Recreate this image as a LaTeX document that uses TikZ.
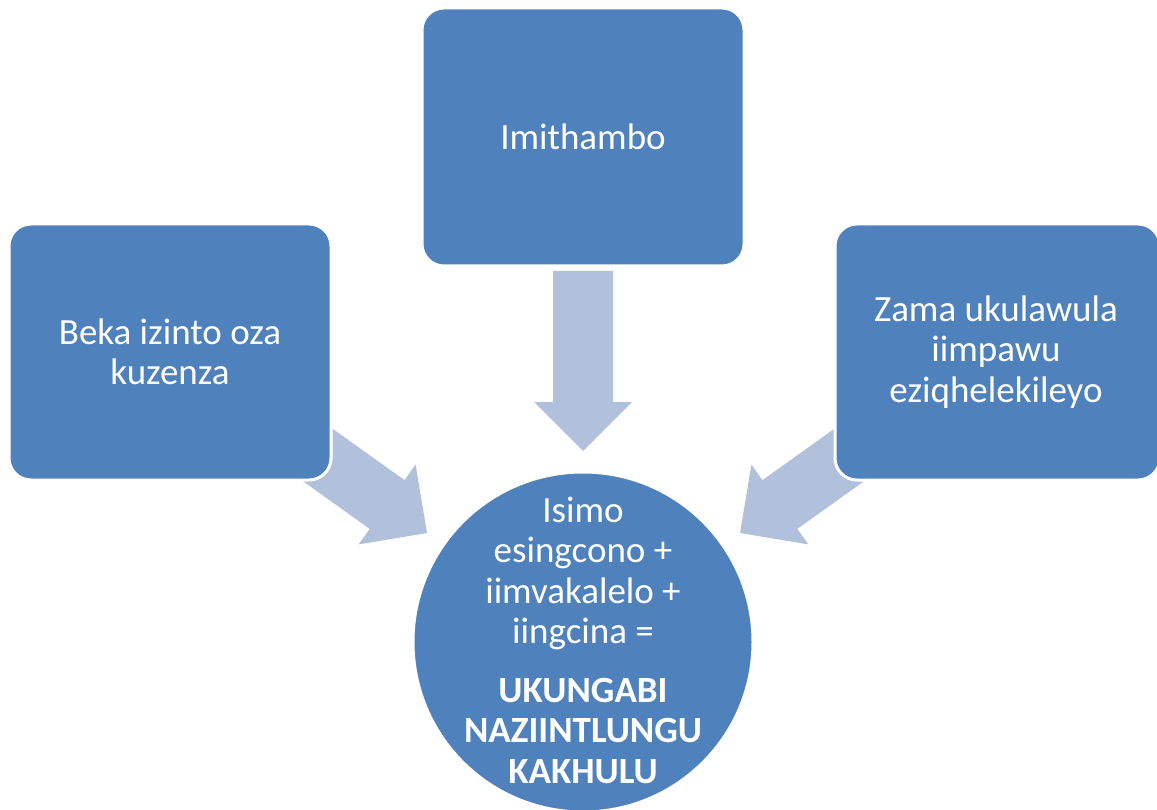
\documentclass[tikz,border=0pt]{standalone}
\usepackage{fontspec}
\setmainfont{Carlito}
\definecolor{boxblue}{HTML}{4F81BD}
\definecolor{arrowblue}{HTML}{B2C1DB}
\begin{document}
\begin{tikzpicture}[x=1pt,y=-1pt,
  blockbox/.style={draw=white, line width=3pt, fill=boxblue, rounded corners=22pt, inner sep=0pt},
  blockarrow/.style={fill=arrowblue, draw=none},
  label/.style={text=white, align=center, font=\fontsize{37}{40.5}\selectfont, inner sep=0pt}]
\useasboundingbox (0,0) rectangle (1157,810);
\clip (0,0) rectangle (1157,810);
% block arrows
\fill[blockarrow] (553,271) -- (613,271) -- (613,402) -- (632,402) -- (583,451) -- (534,402) -- (553,402) -- cycle;
\fill[blockarrow] (297.9,404.0) -- (404.5,480.1) -- (415.6,464.6) -- (427,533) -- (358.6,544.4) -- (369.7,528.9) -- (263.1,452.8) -- cycle;
\fill[blockarrow] (869.1,404.0) -- (762.5,480.1) -- (751.4,464.6) -- (740,533) -- (808.4,544.4) -- (797.3,528.9) -- (903.9,452.8) -- cycle;
% boxes
\draw[blockbox] (9,224) rectangle (331,480);
\node[label] (left) at (170,352) {Beka izinto oza\\kuzenza};
\draw[blockbox] (422,8) rectangle (744,266);
\node[label] (top) at (583,137) {Imithambo};
\draw[blockbox] (835,224) rectangle (1160,480);
\node[label] (right) at (996,352) {Zama ukulawula\\iimpawu\\eziqhelekileyo};
% circle
\node[circle, fill=boxblue, draw=white, line width=3pt, minimum size=340pt, inner sep=0pt] (circ) at (583,642) {};
\node[label] (ctext) at (583,640) {Isimo\\esingcono +\\iimvakalelo +\\iingcina =\\[18pt]\textbf{UKUNGABI}\\\textbf{NAZIINTLUNGU}\\\textbf{KAKHULU}};
\end{tikzpicture}
\end{document}
